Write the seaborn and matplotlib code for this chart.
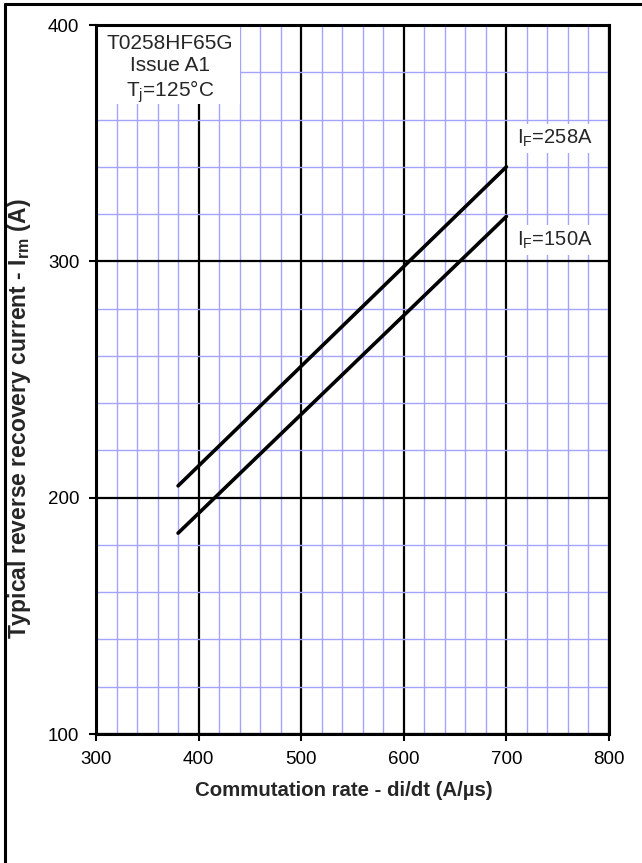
import matplotlib
matplotlib.use("Agg")
import matplotlib.pyplot as plt
from matplotlib.ticker import MultipleLocator
from matplotlib.patches import Rectangle
from matplotlib.lines import Line2D
import seaborn as sns
import pandas as pd

# ---- data ----
didt_258 = [380, 700]
irm_258 = [205, 340]
didt_150 = [380, 700]
irm_150 = [185, 319]
series_names = ["I$_\\mathregular{F}$=258A", "I$_\\mathregular{F}$=150A"]
x_ticks = [300, 400, 500, 600, 700, 800]
y_ticks = [100, 200, 300, 400]
info_lines = ["T0258HF65G", "Issue A1", "T$_\\mathregular{j}$=125°C"]

df = pd.DataFrame({
    "didt": didt_258 + didt_150,
    "irm": irm_258 + irm_150,
    "series": [series_names[0]] * len(didt_258) + [series_names[1]] * len(didt_150),
})

sns.set_style("white")
plt.rcParams["font.family"] = ["Liberation Sans", "DejaVu Sans"]
plt.rcParams["mathtext.default"] = "regular"
plt.rcParams["mathtext.fontset"] = "custom"
plt.rcParams["mathtext.rm"] = "Liberation Sans"
plt.rcParams["mathtext.bf"] = "Liberation Sans:bold"
plt.rcParams["mathtext.it"] = "Liberation Sans:italic"

fig = plt.figure(figsize=(6.42, 8.63), dpi=100)
ax = fig.add_axes([96 / 642, 1 - 734 / 863, (609 - 96) / 642, (734 - 25) / 863])

sns.lineplot(data=df, x="didt", y="irm", hue="series", palette=["black", "black"],
             linewidth=2.6, legend=False, ax=ax, zorder=3)

ax.set_xlim(300, 800)
ax.set_ylim(100, 400)
ax.set_xticks(x_ticks)
ax.set_yticks(y_ticks)
ax.xaxis.set_minor_locator(MultipleLocator(20))
ax.yaxis.set_minor_locator(MultipleLocator(20))
ax.set_axisbelow(True)
ax.grid(which="minor", color="#a4a4ff", linewidth=1.0)
ax.grid(which="major", color="black", linewidth=1.6)
ax.tick_params(which="minor", length=0)
ax.tick_params(which="major", direction="out", length=5, width=1.5, labelsize=13.5,
               color="black", labelcolor="black", pad=7, left=True, bottom=True)
for s in ax.spines.values():
    s.set_color("black")
    s.set_linewidth(2.2)
    s.set_visible(True)

ax.set_xlabel("Commutation rate - di/dt (A/µs)", fontsize=14.7, fontweight="bold")
ax.xaxis.set_label_coords(0.483, -0.066)
ax.set_ylabel("Typical reverse recovery current - I$_{\\mathbf{rm}}$ (A)", fontsize=16.5,
              fontweight="bold")
ax.yaxis.set_label_coords(-0.122, 0.445)

# info box
ax.add_patch(Rectangle((0.004, 0.889), 0.277, 0.109, transform=ax.transAxes,
                       facecolor="white", edgecolor="none", zorder=1))
ax.text(0.144, 0.988, "\n".join(info_lines), transform=ax.transAxes, ha="center", va="top",
        fontsize=15, linespacing=1.22, zorder=4)

# series labels
ax.text(747, 352, series_names[0], ha="center", va="center", fontsize=14.5, zorder=4,
        bbox=dict(facecolor="white", edgecolor="none", pad=3))
ax.text(747, 309, series_names[1], ha="center", va="center", fontsize=14.5, zorder=4,
        bbox=dict(facecolor="white", edgecolor="none", pad=3))

# outer frame (partially visible)
fig.add_artist(Line2D([5 / 642, 5 / 642], [0, 1 - 4 / 863], transform=fig.transFigure,
                      color="black", linewidth=2.2))
fig.add_artist(Line2D([5 / 642, 1], [1 - 4 / 863, 1 - 4 / 863], transform=fig.transFigure,
                      color="black", linewidth=2.2))

fig.savefig("out.png", dpi=100)
